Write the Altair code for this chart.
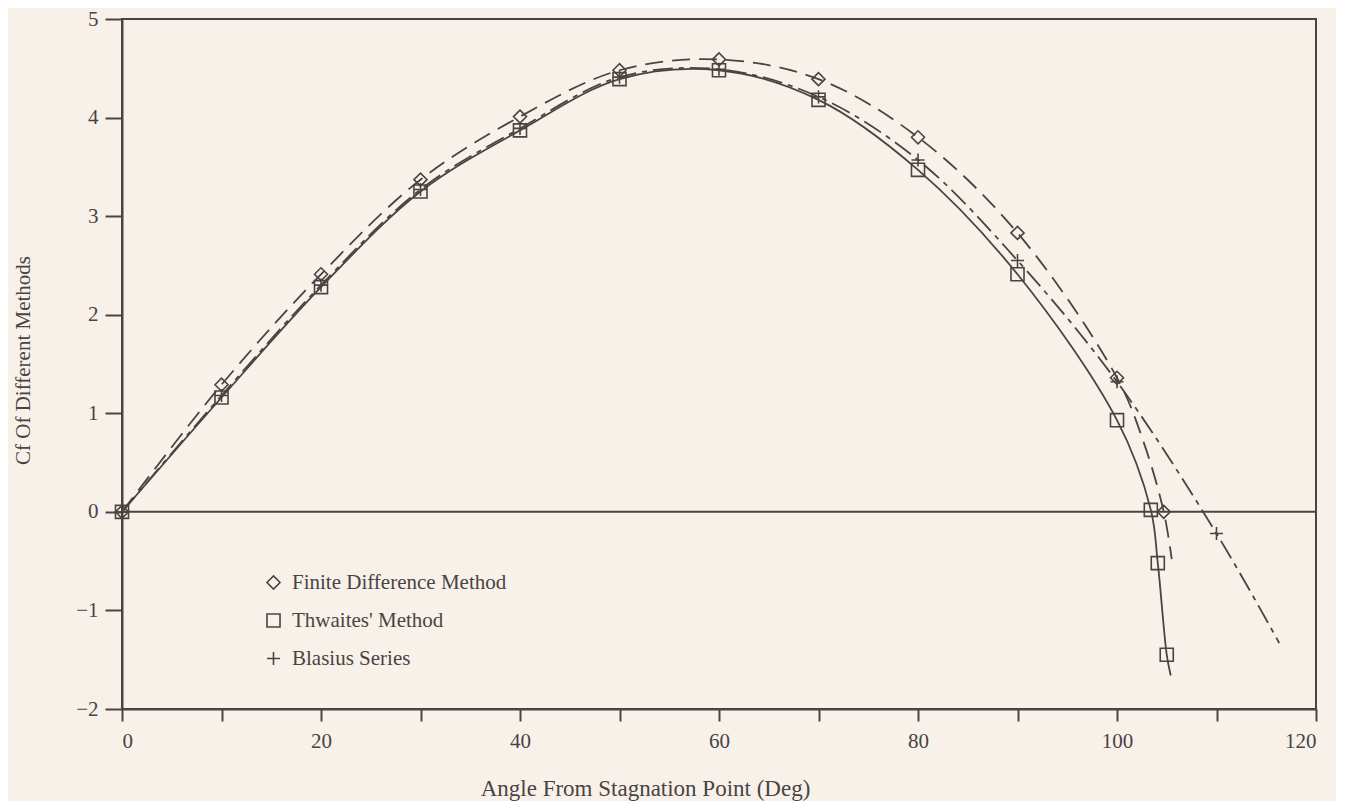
import altair as alt
import pandas as pd

# ---- data ----
fd_x = [0, 10, 20, 30, 40, 50, 60, 70, 80, 90, 100, 104.7]
fd_y = [0, 1.29, 2.41, 3.37, 4.01, 4.48, 4.59, 4.39, 3.80, 2.83, 1.36, 0.0]
fd_line_x = [0, 10, 20, 30, 40, 50, 60, 70, 80, 90, 100, 102.7, 104.7, 105.5]
fd_line_y = [0, 1.29, 2.41, 3.37, 4.01, 4.48, 4.59, 4.39, 3.80, 2.83, 1.36, 0.70, 0.0, -0.48]

th_x = [0, 10, 20, 30, 40, 50, 60, 70, 80, 90, 100, 103.4, 104.1, 105.0]
th_y = [0, 1.16, 2.28, 3.25, 3.87, 4.39, 4.48, 4.18, 3.47, 2.41, 0.93, 0.02, -0.52, -1.45]
th_line_x = th_x + [105.4]
th_line_y = th_y + [-1.66]

bl_x = [0, 10, 20, 30, 40, 50, 60, 70, 80, 90, 100, 110]
bl_y = [0, 1.18, 2.30, 3.27, 3.89, 4.41, 4.49, 4.21, 3.57, 2.55, 1.32, -0.22]
bl_line_x = bl_x + [116.3]
bl_line_y = bl_y + [-1.33]

methods = ["Finite Difference Method", "Thwaites' Method", "Blasius Series"]
x_ticks = [0, 10, 20, 30, 40, 50, 60, 70, 80, 90, 100, 110, 120]
y_ticks = [-2, -1, 0, 1, 2, 3, 4, 5]

INK = "#4a4343"
BG = "#f8f1ea"
FONT = "Liberation Serif"

pts = pd.concat([
    pd.DataFrame({"x": fd_x, "y": fd_y, "method": methods[0]}),
    pd.DataFrame({"x": th_x, "y": th_y, "method": methods[1]}),
    pd.DataFrame({"x": bl_x, "y": bl_y, "method": methods[2]}),
])
fd_line = pd.DataFrame({"x": fd_line_x, "y": fd_line_y})
th_line = pd.DataFrame({"x": th_line_x, "y": th_line_y})
bl_line = pd.DataFrame({"x": bl_line_x, "y": bl_line_y})

xs = alt.Scale(domain=[0, 120], nice=False, zero=False)
ys = alt.Scale(domain=[-2, 5], nice=False, zero=False)

x_axis = alt.Axis(
    values=x_ticks,
    labelExpr="datum.value % 20 == 0 ? datum.label : ''",
    title="Angle From Stagnation Point (Deg)",
    titleX=523, titleY=86, titleAlign="center", titleBaseline="alphabetic",
    titleFontSize=23,
    tickSize=12, labelPadding=9, grid=False,
)
y_axis = alt.Axis(
    values=y_ticks,
    title="Cf Of Different Methods",
    titleX=-99, titleY=341, titleAngle=270, titleAlign="center", titleBaseline="middle",
    tickSize=17, labelPadding=7, grid=False,
)

X = alt.X("x:Q", scale=xs, axis=x_axis)
Y = alt.Y("y:Q", scale=ys, axis=y_axis)

zero = alt.Chart(pd.DataFrame({"y": [0]})).mark_rule(color=INK, strokeWidth=2).encode(
    y=alt.Y("y:Q", scale=ys, axis=y_axis)
)

INTERP = "catmull-rom"
line_th = alt.Chart(th_line).mark_line(color=INK, strokeWidth=1.8, interpolate=INTERP).encode(x=X, y=Y)
line_fd = alt.Chart(fd_line).mark_line(color=INK, strokeWidth=1.8, strokeDash=[18, 9], interpolate=INTERP).encode(x=X, y=Y)
line_bl = alt.Chart(bl_line).mark_line(color=INK, strokeWidth=1.8, strokeDash=[20, 6, 5, 6], interpolate=INTERP).encode(x=X, y=Y)

points = alt.Chart(pts).mark_point(filled=False, stroke=INK, strokeWidth=1.6, size=170, opacity=1).encode(
    x=X, y=Y,
    shape=alt.Shape(
        "method:N",
        scale=alt.Scale(domain=methods, range=["diamond", "square", "M-1,0L1,0M0,-1L0,1"]),
        legend=alt.Legend(
            title=None, orient="none", legendX=141, legendY=553,
            padding=0, rowPadding=16, labelOffset=8, labelLimit=0,
            labelFont=FONT, labelFontSize=21, labelColor=INK,
            symbolSize=170, symbolStrokeColor=INK, symbolStrokeWidth=1.6,
            symbolFillColor="transparent", symbolType="square",
        ),
    ),
)

chart = alt.layer(zero, line_th, line_fd, line_bl, points).properties(
    width=1194, height=690,
    autosize=alt.AutoSizeParams(type="none"),
    padding={"left": 114, "top": 11, "right": 20, "bottom": 92},
    background=BG,
).configure_view(
    stroke=INK, strokeWidth=2,
).configure_axis(
    domainColor=INK, domainWidth=2, tickColor=INK, tickWidth=2,
    labelFont=FONT, labelFontSize=21, labelColor=INK,
    titleFont=FONT, titleFontSize=21, titleColor=INK, titleFontWeight="normal",
)

chart.save("out.html", embed_options={"renderer": "svg", "actions": False})
